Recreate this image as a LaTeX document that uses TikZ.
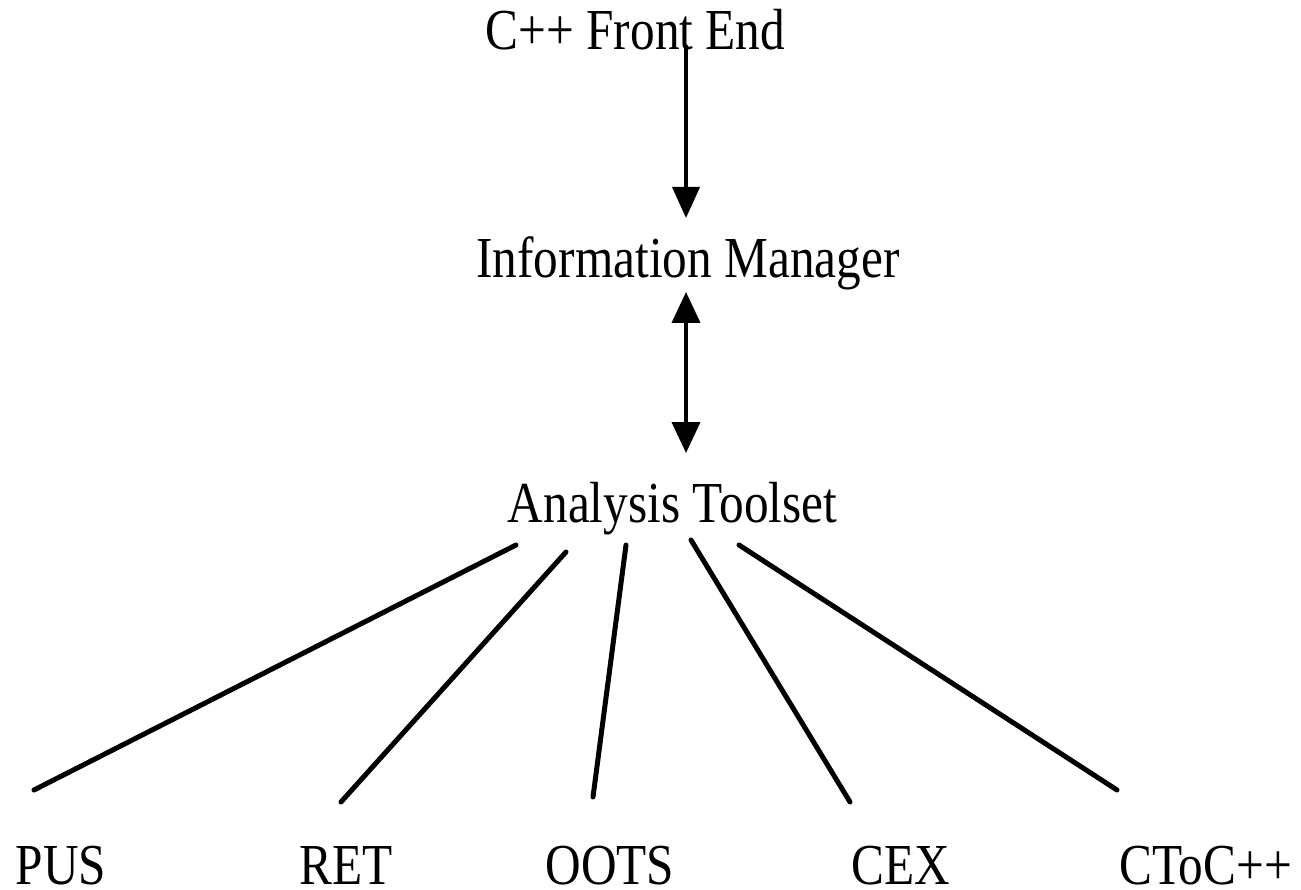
\documentclass[tikz,border=0pt]{standalone}
\usepackage{fontspec}
\setmainfont{Liberation Serif}[FakeStretch=0.85]
\usetikzlibrary{arrows.meta}
\begin{document}
\begin{tikzpicture}[x=1pt,y=-1pt,
  lbl/.style={anchor=base,inner sep=0pt,text depth=0pt,font=\fontsize{58}{60}\selectfont},
  flow/.style={line width=4pt,-{Triangle[length=31pt,width=27pt]}},
  both/.style={line width=4pt,{Triangle[length=31pt,width=28pt]}-{Triangle[length=31pt,width=28pt]}},
  fan/.style={line width=5pt,line cap=round}]
\useasboundingbox (0,0) rectangle (1301,890);
\fill[white] (0,0) rectangle (1301,890);
% labels
\node[lbl] (fe) at (635.5,50) {C++ Front End};
\node[lbl] (im) at (688,278) {Information Manager};
\node[lbl] (at) at (672.5,522) {Analysis Toolset};
\node[lbl] (pus) at (61,884) {PUS};
\node[lbl] (ret) at (346.5,884) {RET};
\node[lbl] (oots) at (610,884) {OOTS};
\node[lbl] (cex) at (901,884) {CEX};
\node[lbl] (ctoc) at (1205.5,884) {CToC++};
% connector end points
\coordinate (fe-out) at (686,45);
\coordinate (im-in) at (686,218);
\coordinate (im-out) at (686,292);
\coordinate (at-in) at (686,453);
\coordinate (at-1) at (516,545);
\coordinate (at-2) at (566,552);
\coordinate (at-3) at (626,545);
\coordinate (at-4) at (691,540);
\coordinate (at-5) at (739,545);
\coordinate (pus-in) at (34,790);
\coordinate (ret-in) at (341,802);
\coordinate (oots-in) at (593,797);
\coordinate (cex-in) at (850,802);
\coordinate (ctoc-in) at (1117,790);
% connectors
\draw[flow] (fe-out) -- (im-in);
\draw[both] (im-out) -- (at-in);
\draw[fan] (at-1) -- (pus-in);
\draw[fan] (at-2) -- (ret-in);
\draw[fan] (at-3) -- (oots-in);
\draw[fan] (at-4) -- (cex-in);
\draw[fan] (at-5) -- (ctoc-in);
\end{tikzpicture}
\end{document}
